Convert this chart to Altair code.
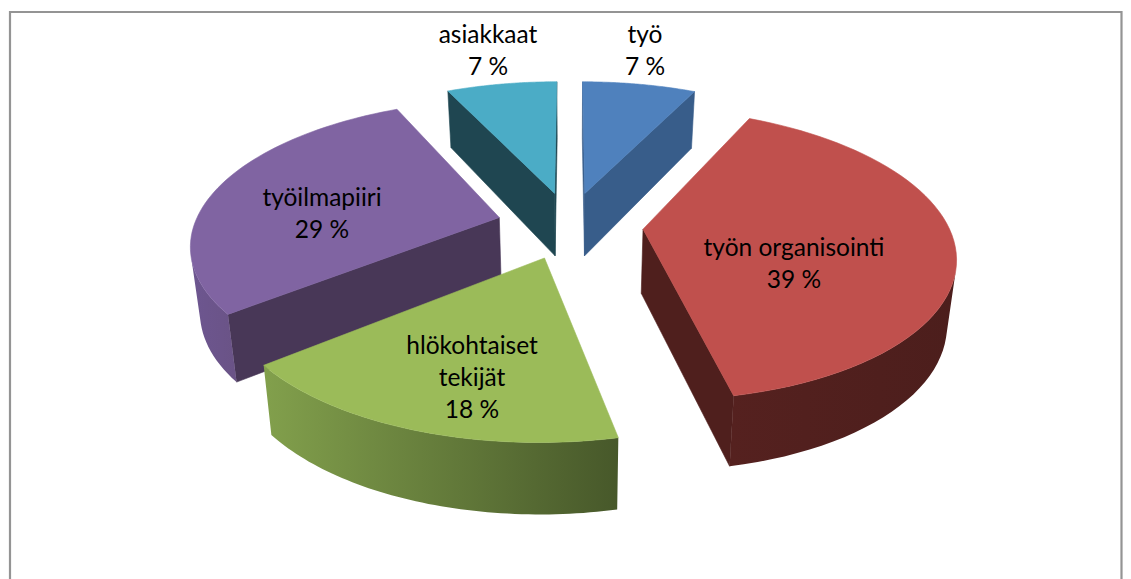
import math
import altair as alt

# ---- data (labels show the rounded values)
categories = ["työ", "työn organisointi", "hlökohtaiset tekijät", "työilmapiiri", "asiakkaat"]
label_lines = [["työ"], ["työn organisointi"], ["hlökohtaiset", "tekijät"], ["työilmapiiri"], ["asiakkaat"]]
values = [7.2, 39.49, 17.5, 28.81, 7.0]

# ---- styles
top_colors = ["#4f81bd", "#c0504d", "#9bbb59", "#8064a2", "#4bacc6"]
face_colors = ["#385d8a", "#4f1f1d", "#4f6230", "#483757", "#1f4651"]
side_left = ["#385d8a", "#55211f", "#82a04c", "#6d5690", "#1f4651"]
side_right = ["#385d8a", "#4c1e1c", "#47582a", "#6a5386", "#1f4651"]
draw_order = [4, 0, 3, 1, 2]

# ---- layout: perspective model of the exploded pie, in page pixels
W, H = 1115, 571
PAGE = 8
CX, CY = 572, 225
AX, BY = 305, 140.4
PERSP = 0.17
EXPLODE = 0.24
STEPS = 60
TAPER = 0.025
LINE_H = 32
FONT = 24.5
slice_nudge = [-3, -2, -2, -2, -2]
label_anchor = [(645, 35.5), (794, 248.5), (472, 346.5), (322, 198.5), (488, 35.5)]


def project(X, Y, low=False, nudge=0):
    w = 1 + PERSP * Y
    x = CX + AX * X / w + nudge
    y = CY - BY * Y / w
    if low:
        x += (CX - x) * TAPER
        y += 64 - 6.5 * Y
    return [x - PAGE, y - PAGE]


def area(poly):
    s = 0
    for p, q in zip(poly, poly[1:] + poly[:1]):
        s += p[0] * q[1] - q[0] * p[1]
    return s / 2


def feature(poly):
    return {
        "type": "Feature",
        "properties": {},
        "geometry": {"type": "Polygon", "coordinates": [poly + [poly[0]]]},
    }


proj = alt.Projection(type="identity", scale=1, translate=[0, 0]).to_dict()


def solid(polys, color):
    return alt.Chart(alt.Data(values=[feature(p) for p in polys])).mark_geoshape(
        fill=color, stroke=color, strokeWidth=0.6
    ).project(**proj)


def graded(poly, c0, c1):
    grad = alt.Gradient(
        gradient="linear", x1=0, x2=1, y1=0, y2=0,
        stops=[alt.GradientStop(color=c0, offset=0), alt.GradientStop(color=c1, offset=1)],
    )
    return alt.Chart(alt.Data(values=[feature(poly)])).mark_geoshape(
        fill=grad, strokeWidth=0
    ).project(**proj)


total = sum(values)
spans = []
acc = 0.0
for v in values:
    spans.append((acc / total * 2 * math.pi, (acc + v) / total * 2 * math.pi))
    acc += v

layers = []
border = [{
    "type": "Feature",
    "properties": {},
    "geometry": {
        "type": "LineString",
        "coordinates": [[2, H + 20], [2, 4], [W - 1.5, 4], [W - 1.5, H + 20]],
    },
}]
layers.append(
    alt.Chart(alt.Data(values=border)).mark_geoshape(
        filled=False, stroke="#949494", strokeWidth=2.2
    ).project(**proj)
)

for i in draw_order:
    t0, t1 = spans[i]
    mid = (t0 + t1) / 2
    ox, oy = EXPLODE * math.sin(mid), EXPLODE * math.cos(mid)
    n = slice_nudge[i]
    angs = [t0 + (t1 - t0) * j / STEPS for j in range(STEPS + 1)]
    pts = [(ox + math.sin(t), oy + math.cos(t)) for t in angs]
    up = [project(*p, nudge=n) for p in pts]
    lo = [project(*p, low=True, nudge=n) for p in pts]
    apex_up, apex_lo = project(ox, oy, nudge=n), project(ox, oy, low=True, nudge=n)

    faces = [
        p for p in ([apex_up, up[0], lo[0], apex_lo], [up[-1], apex_up, apex_lo, lo[-1]])
        if area(p) < 0
    ]
    if faces:
        layers.append(solid(faces, face_colors[i]))

    vis = [j for j in range(STEPS) if area([up[j], up[j + 1], lo[j + 1], lo[j]]) < 0]
    if vis:
        a, b = vis[0], vis[-1] + 1
        side = up[a:b + 1] + lo[a:b + 1][::-1]
        layers.append(graded(side, side_left[i], side_right[i]))

    layers.append(solid([[apex_up] + up], top_colors[i]))

text_rows = []
for i, v in enumerate(values):
    lines = label_lines[i] + ["%d %%" % round(v)]
    ax, ay = label_anchor[i]
    for k, line in enumerate(lines):
        text_rows.append({"lon": ax - PAGE, "lat": ay + k * LINE_H - PAGE, "txt": line})

layers.append(
    alt.Chart(alt.Data(values=text_rows)).mark_text(
        font="Lato", fontSize=FONT, color="black", align="center", baseline="middle"
    ).encode(
        longitude="lon:Q", latitude="lat:Q", text="txt:N"
    ).project(**proj)
)

chart = alt.layer(*layers).properties(
    width=W, height=H, padding=0, autosize=alt.AutoSizeParams(type="none"), background="white"
).configure_view(stroke=None)

chart.save("out.html", embed_options={"renderer": "svg", "actions": False})
